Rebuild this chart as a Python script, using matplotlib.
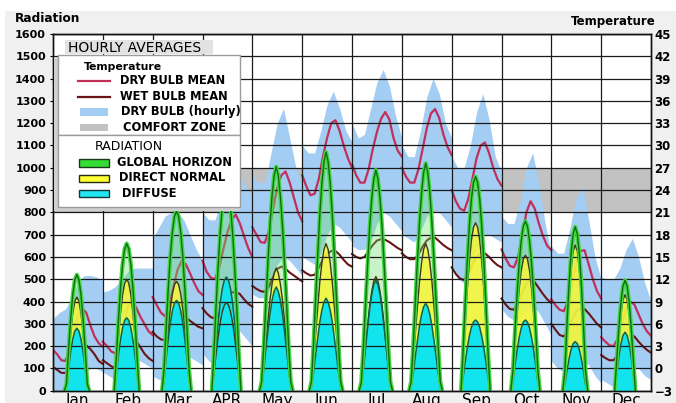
import numpy as np
import matplotlib
matplotlib.use("Agg")
import matplotlib.pyplot as plt
from matplotlib.patches import Rectangle
from matplotlib.lines import Line2D

plt.rcParams['font.family'] = ['DejaVu Sans']

# ---------------- data ----------------
months = ["Jan", "Feb", "Mar", "APR", "May", "Jun", "Jul", "Aug", "Sep", "Oct", "Nov", "Dec"]
temp_hours = [0, 2, 4, 6, 8, 10, 12, 14, 16, 18, 20, 22, 24]
band_hours = [0, 3, 6, 9, 12, 15, 18, 21, 24]
rad_hours = list(range(4, 21))

dry_bulb_mean = [
    [2.5, 1.9, 1.1, 1.0, 2.5, 5.0, 7.0, 8.1, 7.5, 5.8, 4.3, 3.4, 2.9],
    [3.6, 3.0, 2.3, 2.0, 3.5, 6.0, 8.3, 9.2, 8.2, 7.0, 6.0, 5.0, 4.5],
    [9.6, 8.5, 7.5, 7.0, 8.5, 11.0, 13.3, 14.5, 14.0, 12.8, 11.5, 10.4, 9.9],
    [14.5, 13.0, 12.2, 12.0, 13.5, 16.0, 18.3, 20.0, 20.7, 19.5, 17.8, 16.2, 15.0],
    [19.0, 18.0, 17.0, 16.9, 18.5, 21.5, 24.3, 26.0, 26.5, 25.0, 23.0, 21.0, 19.8],
    [26.0, 24.5, 23.3, 23.5, 25.5, 28.5, 31.0, 33.0, 33.4, 32.0, 30.0, 28.3, 27.0],
    [27.5, 26.0, 25.0, 25.0, 26.8, 29.5, 31.8, 33.6, 34.5, 33.5, 31.0, 29.3, 28.5],
    [27.0, 25.8, 25.0, 25.0, 26.8, 29.5, 32.3, 34.3, 34.9, 33.7, 31.5, 29.8, 28.7],
    [24.0, 22.5, 21.5, 21.2, 22.8, 25.5, 28.3, 30.0, 30.4, 29.0, 27.0, 25.5, 24.6],
    [16.0, 14.8, 13.8, 13.6, 15.0, 18.0, 21.0, 22.5, 21.5, 19.5, 17.8, 16.5, 15.9],
    [9.3, 8.5, 7.9, 7.7, 9.0, 11.5, 14.3, 15.8, 15.9, 14.0, 12.0, 10.4, 9.4],
    [4.2, 3.6, 3.1, 3.0, 4.0, 6.0, 8.0, 9.0, 8.6, 7.3, 6.0, 5.0, 4.4],
]

wet_bulb_mean = [
    [0.2, -0.2, -0.6, -0.6, 0.0, 1.0, 2.0, 2.9, 3.1, 2.6, 1.9, 1.0, 0.6],
    [1.1, 0.7, 0.3, 0.0, 0.8, 2.0, 3.2, 3.9, 3.7, 2.9, 2.0, 1.4, 1.0],
    [4.9, 4.3, 3.9, 3.8, 4.6, 5.8, 6.8, 7.2, 6.9, 6.4, 6.0, 5.6, 5.4],
    [8.1, 7.4, 6.9, 6.7, 7.3, 8.5, 9.6, 10.2, 10.3, 10.0, 9.3, 8.7, 8.3],
    [11.1, 10.7, 10.4, 10.3, 11.0, 12.3, 13.4, 13.7, 13.4, 12.9, 12.5, 12.1, 11.7],
    [13.2, 12.8, 12.5, 12.6, 13.5, 14.7, 15.4, 15.8, 15.8, 15.3, 14.6, 14.0, 13.7],
    [15.4, 15.0, 14.8, 15.0, 15.8, 16.6, 17.2, 17.4, 17.3, 17.0, 16.6, 16.2, 15.9],
    [15.5, 15.0, 14.7, 14.7, 15.3, 16.4, 17.2, 17.6, 17.6, 17.1, 16.6, 16.2, 15.9],
    [13.6, 12.7, 12.1, 11.9, 12.6, 14.0, 15.0, 15.5, 15.5, 15.0, 14.4, 13.9, 13.6],
    [9.4, 8.6, 8.0, 7.9, 8.8, 10.3, 11.4, 11.9, 11.6, 10.8, 10.0, 9.3, 8.8],
    [6.0, 5.2, 4.5, 4.3, 5.0, 6.6, 7.7, 8.1, 8.0, 7.4, 6.7, 6.0, 5.5],
    [1.8, 1.4, 1.1, 1.1, 1.8, 3.0, 4.0, 4.5, 4.3, 3.6, 3.0, 2.5, 2.1],
]

dry_bulb_hourly_max = [
    [6.7, 7.5, 8.0, 9.5, 11.5, 12.5, 12.5, 12.3, 11.8],
    [10.3, 10.5, 11.0, 12.0, 13.0, 13.5, 13.5, 13.5, 13.5],
    [17.5, 19.0, 20.5, 21.0, 21.0, 20.0, 18.0, 16.0, 14.5],
    [21.0, 20.0, 20.0, 22.5, 25.5, 27.5, 26.0, 24.5, 23.0],
    [26.0, 25.0, 25.0, 29.0, 33.0, 35.0, 31.0, 27.0, 24.5],
    [30.0, 29.0, 29.0, 32.0, 35.5, 37.3, 35.0, 32.0, 30.5],
    [33.0, 31.0, 31.5, 35.0, 38.5, 40.2, 38.0, 34.0, 31.0],
    [30.0, 28.5, 28.5, 32.0, 36.5, 39.0, 37.0, 33.0, 31.0],
    [28.5, 27.0, 27.0, 30.0, 34.5, 37.0, 33.5, 28.5, 26.5],
    [20.5, 19.5, 19.5, 22.5, 27.0, 29.0, 25.0, 19.5, 15.5],
    [16.5, 15.5, 15.5, 19.0, 23.0, 24.5, 20.0, 15.0, 12.0],
    [12.3, 12.0, 12.0, 13.5, 16.0, 17.5, 15.0, 11.5, 9.0],
]

dry_bulb_hourly_min = [
    [-3.0, -3.0, -3.0, -2.5, -1.5, -0.5, 0.0, 0.0, -0.5],
    [-0.5, -1.0, -1.5, -1.0, 0.0, 1.0, 1.0, 0.5, 0.0],
    [-1.0, -1.5, -1.5, -1.0, 0.0, 1.0, 1.5, 1.0, 0.5],
    [2.0, 1.0, 0.5, 1.5, 3.5, 5.0, 5.0, 4.0, 3.0],
    [10.0, 9.5, 9.5, 11.0, 14.0, 15.0, 14.5, 13.5, 12.5],
    [15.0, 14.5, 14.0, 15.5, 18.0, 19.5, 19.0, 18.0, 17.0],
    [16.5, 16.0, 16.0, 17.0, 19.5, 21.0, 20.5, 19.5, 18.5],
    [18.0, 17.5, 17.0, 18.5, 20.5, 21.5, 21.0, 20.0, 19.0],
    [13.5, 12.0, 11.5, 13.0, 16.0, 18.0, 18.0, 17.5, 17.0],
    [8.0, 7.0, 6.5, 7.0, 8.0, 8.5, 7.5, 6.0, 4.5],
    [1.0, 0.0, -0.5, -1.0, 0.0, 1.0, 0.5, -1.0, -2.0],
    [-1.5, -2.0, -2.5, -2.5, -1.5, 0.0, 0.0, -1.0, -1.5],
]

comfort_zone = [21, 27]

global_horizon = [
    [0, 0, 0, 31, 185, 321, 428, 497, 520, 497, 428, 321, 185, 31, 0, 0, 0],
    [0, 0, 0, 149, 315, 457, 567, 636, 660, 636, 567, 457, 315, 149, 0, 0, 0],
    [0, 0, 97, 286, 457, 603, 713, 782, 805, 782, 713, 603, 457, 286, 97, 0, 0],
    [0, 0, 169, 372, 554, 707, 823, 895, 920, 895, 823, 707, 554, 372, 169, 0, 0],
    [0, 40, 201, 392, 573, 744, 874, 965, 1005, 965, 874, 744, 573, 392, 201, 40, 0],
    [0, 43, 214, 417, 610, 792, 931, 1027, 1070, 1027, 931, 792, 610, 417, 214, 43, 0],
    [0, 40, 198, 386, 564, 733, 861, 950, 990, 950, 861, 733, 564, 386, 198, 40, 0],
    [0, 41, 204, 398, 581, 755, 887, 979, 1020, 979, 887, 755, 581, 398, 204, 41, 0],
    [0, 0, 177, 388, 578, 738, 859, 934, 960, 934, 859, 738, 578, 388, 177, 0, 0],
    [0, 0, 91, 270, 432, 569, 673, 738, 760, 738, 673, 569, 432, 270, 91, 0, 0],
    [0, 0, 0, 85, 291, 473, 614, 704, 735, 704, 614, 473, 291, 85, 0, 0, 0],
    [0, 0, 0, 0, 135, 279, 395, 469, 495, 469, 395, 279, 135, 0, 0, 0, 0],
]

direct_normal = [
    [0, 0, 0, 25, 149, 259, 346, 401, 420, 401, 346, 259, 149, 25, 0, 0, 0],
    [0, 0, 0, 113, 239, 347, 430, 482, 500, 482, 430, 347, 239, 113, 0, 0, 0],
    [0, 0, 59, 174, 278, 367, 434, 476, 490, 476, 434, 367, 278, 174, 59, 0, 0],
    [0, 0, 73, 160, 238, 304, 354, 384, 395, 384, 354, 304, 238, 160, 73, 0, 0],
    [0, 22, 110, 215, 314, 407, 479, 528, 550, 528, 479, 407, 314, 215, 110, 22, 0],
    [0, 26, 132, 257, 376, 488, 574, 634, 660, 634, 574, 488, 376, 257, 132, 26, 0],
    [0, 20, 102, 200, 292, 379, 445, 492, 512, 492, 445, 379, 292, 200, 102, 20, 0],
    [0, 26, 132, 257, 376, 488, 574, 634, 660, 634, 574, 488, 376, 257, 132, 26, 0],
    [0, 0, 139, 304, 453, 579, 674, 733, 753, 733, 674, 579, 453, 304, 139, 0, 0],
    [0, 0, 73, 216, 345, 455, 539, 590, 608, 590, 539, 455, 345, 216, 73, 0, 0],
    [0, 0, 0, 76, 259, 420, 545, 626, 653, 626, 545, 420, 259, 76, 0, 0, 0],
    [0, 0, 0, 0, 117, 243, 343, 408, 430, 408, 343, 243, 117, 0, 0, 0, 0],
]

diffuse = [
    [0, 0, 0, 17, 99, 173, 230, 267, 280, 267, 230, 173, 99, 17, 0, 0, 0],
    [0, 0, 0, 74, 156, 227, 281, 315, 327, 315, 281, 227, 156, 74, 0, 0, 0],
    [0, 0, 49, 144, 230, 303, 359, 393, 405, 393, 359, 303, 230, 144, 49, 0, 0],
    [0, 0, 94, 206, 307, 392, 456, 496, 510, 496, 456, 392, 307, 206, 94, 0, 0],
    [0, 19, 93, 181, 265, 344, 405, 446, 465, 446, 405, 344, 265, 181, 93, 19, 0],
    [0, 17, 83, 162, 237, 307, 361, 398, 415, 398, 361, 307, 237, 162, 83, 17, 0],
    [0, 20, 99, 193, 282, 366, 431, 475, 495, 475, 431, 366, 282, 193, 99, 20, 0],
    [0, 16, 78, 153, 223, 290, 341, 376, 392, 376, 341, 290, 223, 153, 78, 16, 0],
    [0, 0, 58, 128, 191, 244, 284, 308, 317, 308, 284, 244, 191, 128, 58, 0, 0],
    [0, 0, 38, 113, 180, 237, 281, 308, 317, 308, 281, 237, 180, 113, 38, 0, 0],
    [0, 0, 0, 26, 87, 141, 184, 211, 220, 211, 184, 141, 87, 26, 0, 0, 0],
    [0, 0, 0, 0, 71, 148, 209, 248, 262, 248, 209, 148, 71, 0, 0, 0, 0],
]

# ---------------- styles ----------------
C_DRY = '#c0305a'
C_WET = '#6a1414'
C_BLUE = '#a3cdf3'
C_GREY = '#c2c2c2'
C_GREEN_FILL = '#6fe06f'
C_GREEN_HALO = '#46d646'
C_GREEN_CORE = '#0f6f10'
C_YELLOW = '#f6f63a'
C_CYAN = '#12e4ee'

W, H = 676, 403
fig = plt.figure(figsize=(W / 100, H / 100), dpi=100, facecolor='#f0f0f0')


def fx(px):
    return px / W


def fy(py):
    return 1 - py / H


# white outer margins
fig.patches.append(Rectangle((0, fy(11)), 1, 1 - fy(11), transform=fig.transFigure,
                             facecolor='white', edgecolor='none', zorder=0))
fig.patches.append(Rectangle((0, 0), fx(5), 1, transform=fig.transFigure,
                             facecolor='white', edgecolor='none', zorder=0))

L, R, T, B = 53, 651, 34, 390.7
ax = fig.add_axes([fx(L), fy(B), (R - L) / W, (B - T) / H])
ax.set_facecolor('white')
ax.set_xlim(0, 288)
ax.set_ylim(-3, 45)
ax2 = ax.twinx()
ax2.set_ylim(0, 1600)
ax2.set_xlim(0, 288)

ax.yaxis.tick_right()
ax2.yaxis.tick_left()

# comfort zone
ax.axhspan(comfort_zone[0], comfort_zone[1], color=C_GREY, lw=0, zorder=0.5)

t_h = np.array(temp_hours)
b_h = np.array(band_hours)
r_h = np.array(rad_hours)

for m in range(12):
    ax.fill_between(m * 24 + b_h, dry_bulb_hourly_min[m], dry_bulb_hourly_max[m],
                    color=C_BLUE, lw=0, zorder=1)
for m in range(12):
    ax.plot(m * 24 + t_h, dry_bulb_mean[m], color=C_DRY, lw=1.6, zorder=3)
    ax.plot(m * 24 + t_h, wet_bulb_mean[m], color=C_WET, lw=1.5, zorder=3)

# radiation
for m in range(12):
    x = m * 24 + r_h - 0.5
    g = np.array(global_horizon[m], float)
    d = np.array(direct_normal[m], float)
    f = np.array(diffuse[m], float)
    ax2.fill_between(x, 0, g, color=C_GREEN_FILL, alpha=0.38, lw=0, zorder=1.0)
    ax2.fill_between(x, 0, d, color=C_YELLOW, alpha=0.88, lw=0, zorder=1.1)
    ax2.fill_between(x, 0, f, color=C_CYAN, lw=0, zorder=1.2)
    nz = np.nonzero(g)[0]
    sl = slice(max(nz[0] - 1, 0), min(nz[-1] + 2, len(g)))
    nzd = np.nonzero(d)[0]
    sld = slice(max(nzd[0] - 1, 0), min(nzd[-1] + 2, len(d)))
    nzf = np.nonzero(f)[0]
    slf = slice(max(nzf[0] - 1, 0), min(nzf[-1] + 2, len(f)))
    ax2.plot(x[sld], d[sld], color='#3c3c12', lw=1.0, zorder=2.2)
    ax2.plot(x[slf], f[slf], color='#0b6446', lw=1.1, zorder=2.3)
    ax2.plot(x[sl], g[sl], color=C_GREEN_HALO, lw=3.0, zorder=2.4, solid_capstyle='butt')
    ax2.plot(x[sl], g[sl], color=C_GREEN_CORE, lw=1.0, zorder=2.5)

# grid
ax2.set_yticks(np.arange(0, 1601, 100))
ax2.yaxis.grid(True, color='#1a1a1a', lw=0.9, zorder=1.5)
ax2.set_axisbelow('line')
ax2.vlines(np.arange(24, 288, 24), 0, 1600, color='#1a1a1a', lw=0.9, zorder=1.5)

ax.set_yticks(np.arange(-3, 46, 3))
ax.set_xticks(12 + 24 * np.arange(12))
ax.set_xticklabels(months, fontsize=11)
ax.tick_params(axis='x', length=0, pad=1.5)
ax.tick_params(axis='y', length=0, pad=2.5, labelsize=8.5)
for lab in ax.get_yticklabels():
    lab.set_fontweight('bold')
ax2.tick_params(axis='y', length=2.5, pad=2.5, labelsize=8, width=0.8)
for lab in ax2.get_yticklabels():
    lab.set_fontweight('bold')

for a in (ax, ax2):
    for s in a.spines.values():
        s.set_color('#111111')
        s.set_linewidth(1.0)

# axis titles
fig.text(fx(15), fy(19), 'Radiation', fontsize=8.7, fontweight='bold', va='center', ha='left')
fig.text(fx(571), fy(22), 'Temperature', fontsize=8.5, fontweight='bold', va='center', ha='left')

# ---------------- legend ----------------
def rect(x0, y0, x1, y1, **kw):
    r = Rectangle((fx(x0), fy(y1)), fx(x1) - fx(x0), fy(y0) - fy(y1),
                  transform=fig.transFigure, **kw)
    fig.add_artist(r)


def hline(x0, x1, y, **kw):
    fig.add_artist(Line2D([fx(x0), fx(x1)], [fy(y), fy(y)], transform=fig.transFigure, **kw))


def label(x, y, s, **kw):
    fig.text(fx(x), fy(y), s, va='center', ha='left', **kw)


rect(65, 40, 213, 54, facecolor='#e2e2e2', edgecolor='none', zorder=5)
label(68, 47.5, 'HOURLY AVERAGES', fontsize=10, zorder=6)

rect(54, 57, 240, 211, facecolor='#cfcfcf', edgecolor='none', zorder=5)
rect(58, 55, 240, 135, facecolor='white', edgecolor='#9c9c9c', lw=1.0, zorder=5.1)
rect(58, 135, 240, 207, facecolor='white', edgecolor='#9c9c9c', lw=1.0, zorder=5.1)

label(84, 67, 'Temperature', fontsize=7.8, fontweight='bold', zorder=6)
hline(78, 110, 80.5, color=C_DRY, lw=1.6, zorder=6)
label(120, 81, 'DRY BULB MEAN', fontsize=8.3, fontweight='bold', zorder=6)
hline(78, 110, 96.5, color=C_WET, lw=1.6, zorder=6)
label(120, 96.5, 'WET BULB MEAN', fontsize=8.3, fontweight='bold', zorder=6)
rect(80, 108, 108, 116, facecolor=C_BLUE, edgecolor='none', zorder=6)
label(121, 112, 'DRY BULB (hourly)', fontsize=8.3, fontweight='bold', zorder=6)
rect(80, 124, 108, 131, facecolor=C_GREY, edgecolor='none', zorder=6)
label(123, 127.5, 'COMFORT ZONE', fontsize=8.3, fontweight='bold', zorder=6)

label(95, 147, 'RADIATION', fontsize=9, zorder=6)
rect(79, 159, 109, 167, facecolor='#33dd33', edgecolor='#1b3a1b', lw=1.0, zorder=6)
label(117, 163, 'GLOBAL HORIZON', fontsize=8.3, fontweight='bold', zorder=6)
rect(79, 175, 109, 182, facecolor='#ffff33', edgecolor='#2a2a10', lw=1.0, zorder=6)
label(119, 178, 'DIRECT NORMAL', fontsize=8.3, fontweight='bold', zorder=6)
rect(79, 190, 109, 197, facecolor='#22e6f2', edgecolor='#103a3a', lw=1.0, zorder=6)
label(122, 193.5, 'DIFFUSE', fontsize=8.3, fontweight='bold', zorder=6)

fig.savefig('out.png', dpi=100, facecolor=fig.get_facecolor())
